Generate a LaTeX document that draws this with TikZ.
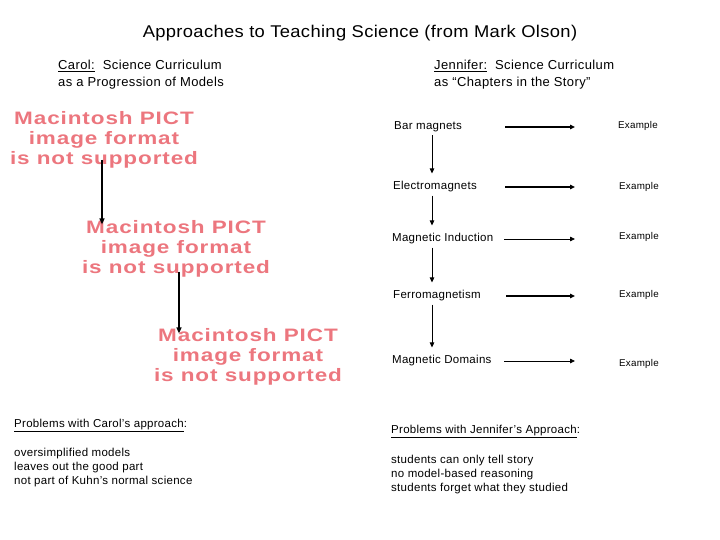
\documentclass[tikz,border=0pt]{standalone}
\usepackage{fontspec}
\setmainfont[LetterSpace=2.5]{Liberation Sans}
\newfontfamily\pictfont[FakeStretch=1.25, LetterSpace=5]{Liberation Sans}
\newfontfamily\titlefont[FakeStretch=1.08, LetterSpace=2]{Liberation Sans}
\usetikzlibrary{arrows.meta,calc}
\definecolor{pictred}{RGB}{236,118,126}
\tikzset{
	title/.style={font=\titlefont\fontsize{17}{20}\selectfont},
	head/.style={anchor=west, align=left, inner sep=0pt, font=\fontsize{13}{17}\selectfont\addfontfeature{LetterSpace=3}},
	item/.style={anchor=west, inner sep=1pt, font=\fontsize{11.5}{13}\selectfont},
	ex/.style={anchor=west, inner sep=1pt, font=\fontsize{9.8}{11}\selectfont},
	pict/.style={align=center, inner sep=0pt, text=pictred, font=\pictfont\bfseries\fontsize{18}{20}\selectfont},
	prob/.style={anchor=north west, align=left, inner sep=0pt, font=\fontsize{11.5}{14}\selectfont},
	larr/.style={-{Triangle[length=6pt,width=5pt]}, line width=1.3pt},
	varr/.style={-{Triangle[length=5pt,width=4.5pt]}, line width=0.8pt, shorten <=2pt, shorten >=7pt},
	harr/.style={-{Triangle[length=5pt,width=4.5pt]}, line width=1.8pt},
	hthin/.style={-{Triangle[length=5pt,width=4.5pt]}, line width=0.8pt}
}
\begin{document}
\begin{tikzpicture}[x=1pt, y=-1pt]
	\useasboundingbox (0,0) rectangle (720,540);
	\node[title] (title) at (360,33) {Approaches to Teaching Science (from Mark Olson)};
	
	% Carol
	\node[head] (carol) at (58,75) {\underline{Carol:}\ \ Science Curriculum\\as a Progression of Models};
	\node[pict] (pict1) at (104,140) {Macintosh PICT\\image format\\is not supported};
	\node[pict] (pict2) at (176,249) {Macintosh PICT\\image format\\is not supported};
	\node[pict] (pict3) at (248,357) {Macintosh PICT\\image format\\is not supported};
	\draw[larr, shorten <=-9pt, shorten >=-4pt] ([xshift=-2pt]pict1.south) -- ([xshift=-2pt]pict1.south |- pict2.north);
	\draw[larr, shorten <=-6pt, shorten >=-5pt] ([xshift=3pt]pict2.south) -- ([xshift=3pt]pict2.south |- pict3.north);
	
	% Jennifer
	\node[head] (jen) at (434,75) {\underline{Jennifer:}\ \ Science Curriculum\\as ``Chapters in the Story''};
	\node[item] (bar) at (393,127) {Bar magnets};
	\node[item] (electro) at (392,187) {Electromagnets};
	\node[item] (induct) at (391,239) {Magnetic Induction};
	\node[item] (ferro) at (392,296) {Ferromagnetism};
	\node[item] (domain) at (391,361) {Magnetic Domains};
	\node[ex] (ex1) at (617,126) {Example};
	\node[ex] (ex2) at (618,187) {Example};
	\node[ex] (ex3) at (618,237) {Example};
	\node[ex] (ex4) at (618,295) {Example};
	\node[ex] (ex5) at (618,364) {Example};
	
	\draw[varr] (bar.south -| 432,0) -- (electro.north -| 432,0);
	\draw[varr] (electro.south -| 432,0) -- (induct.north -| 432,0);
	\draw[varr] (induct.south -| 432,0) -- (ferro.north -| 432,0);
	\draw[varr] (ferro.south -| 432,0) -- (domain.north -| 432,0);
	
	\draw[harr] (bar.west -| 505,0) -- (bar.west -| 575,0);
	\draw[harr] (electro.west -| 505,0) -- (electro.west -| 575,0);
	\draw[hthin] (induct.west -| 504,0) -- (induct.west -| 575,0);
	\draw[harr] (ferro.west -| 506,0) -- (ferro.west -| 575,0);
	\draw[hthin] (domain.west -| 504,0) -- (domain.west -| 575,0);
	
	% problems
	\node[prob] (carolprob) at (14,419) {\underline{Problems with Carol's approach}:};
	\node[prob] (carollist) at (14,448) {oversimplified models\\leaves out the good part\\not part of Kuhn's normal science};
	\node[prob] (jenprob) at (391,425) {\underline{Problems with Jennifer's Approach}:};
	\node[prob] (jenlist) at (391,455) {students can only tell story\\no model-based reasoning\\students forget what they studied};
\end{tikzpicture}
\end{document}
